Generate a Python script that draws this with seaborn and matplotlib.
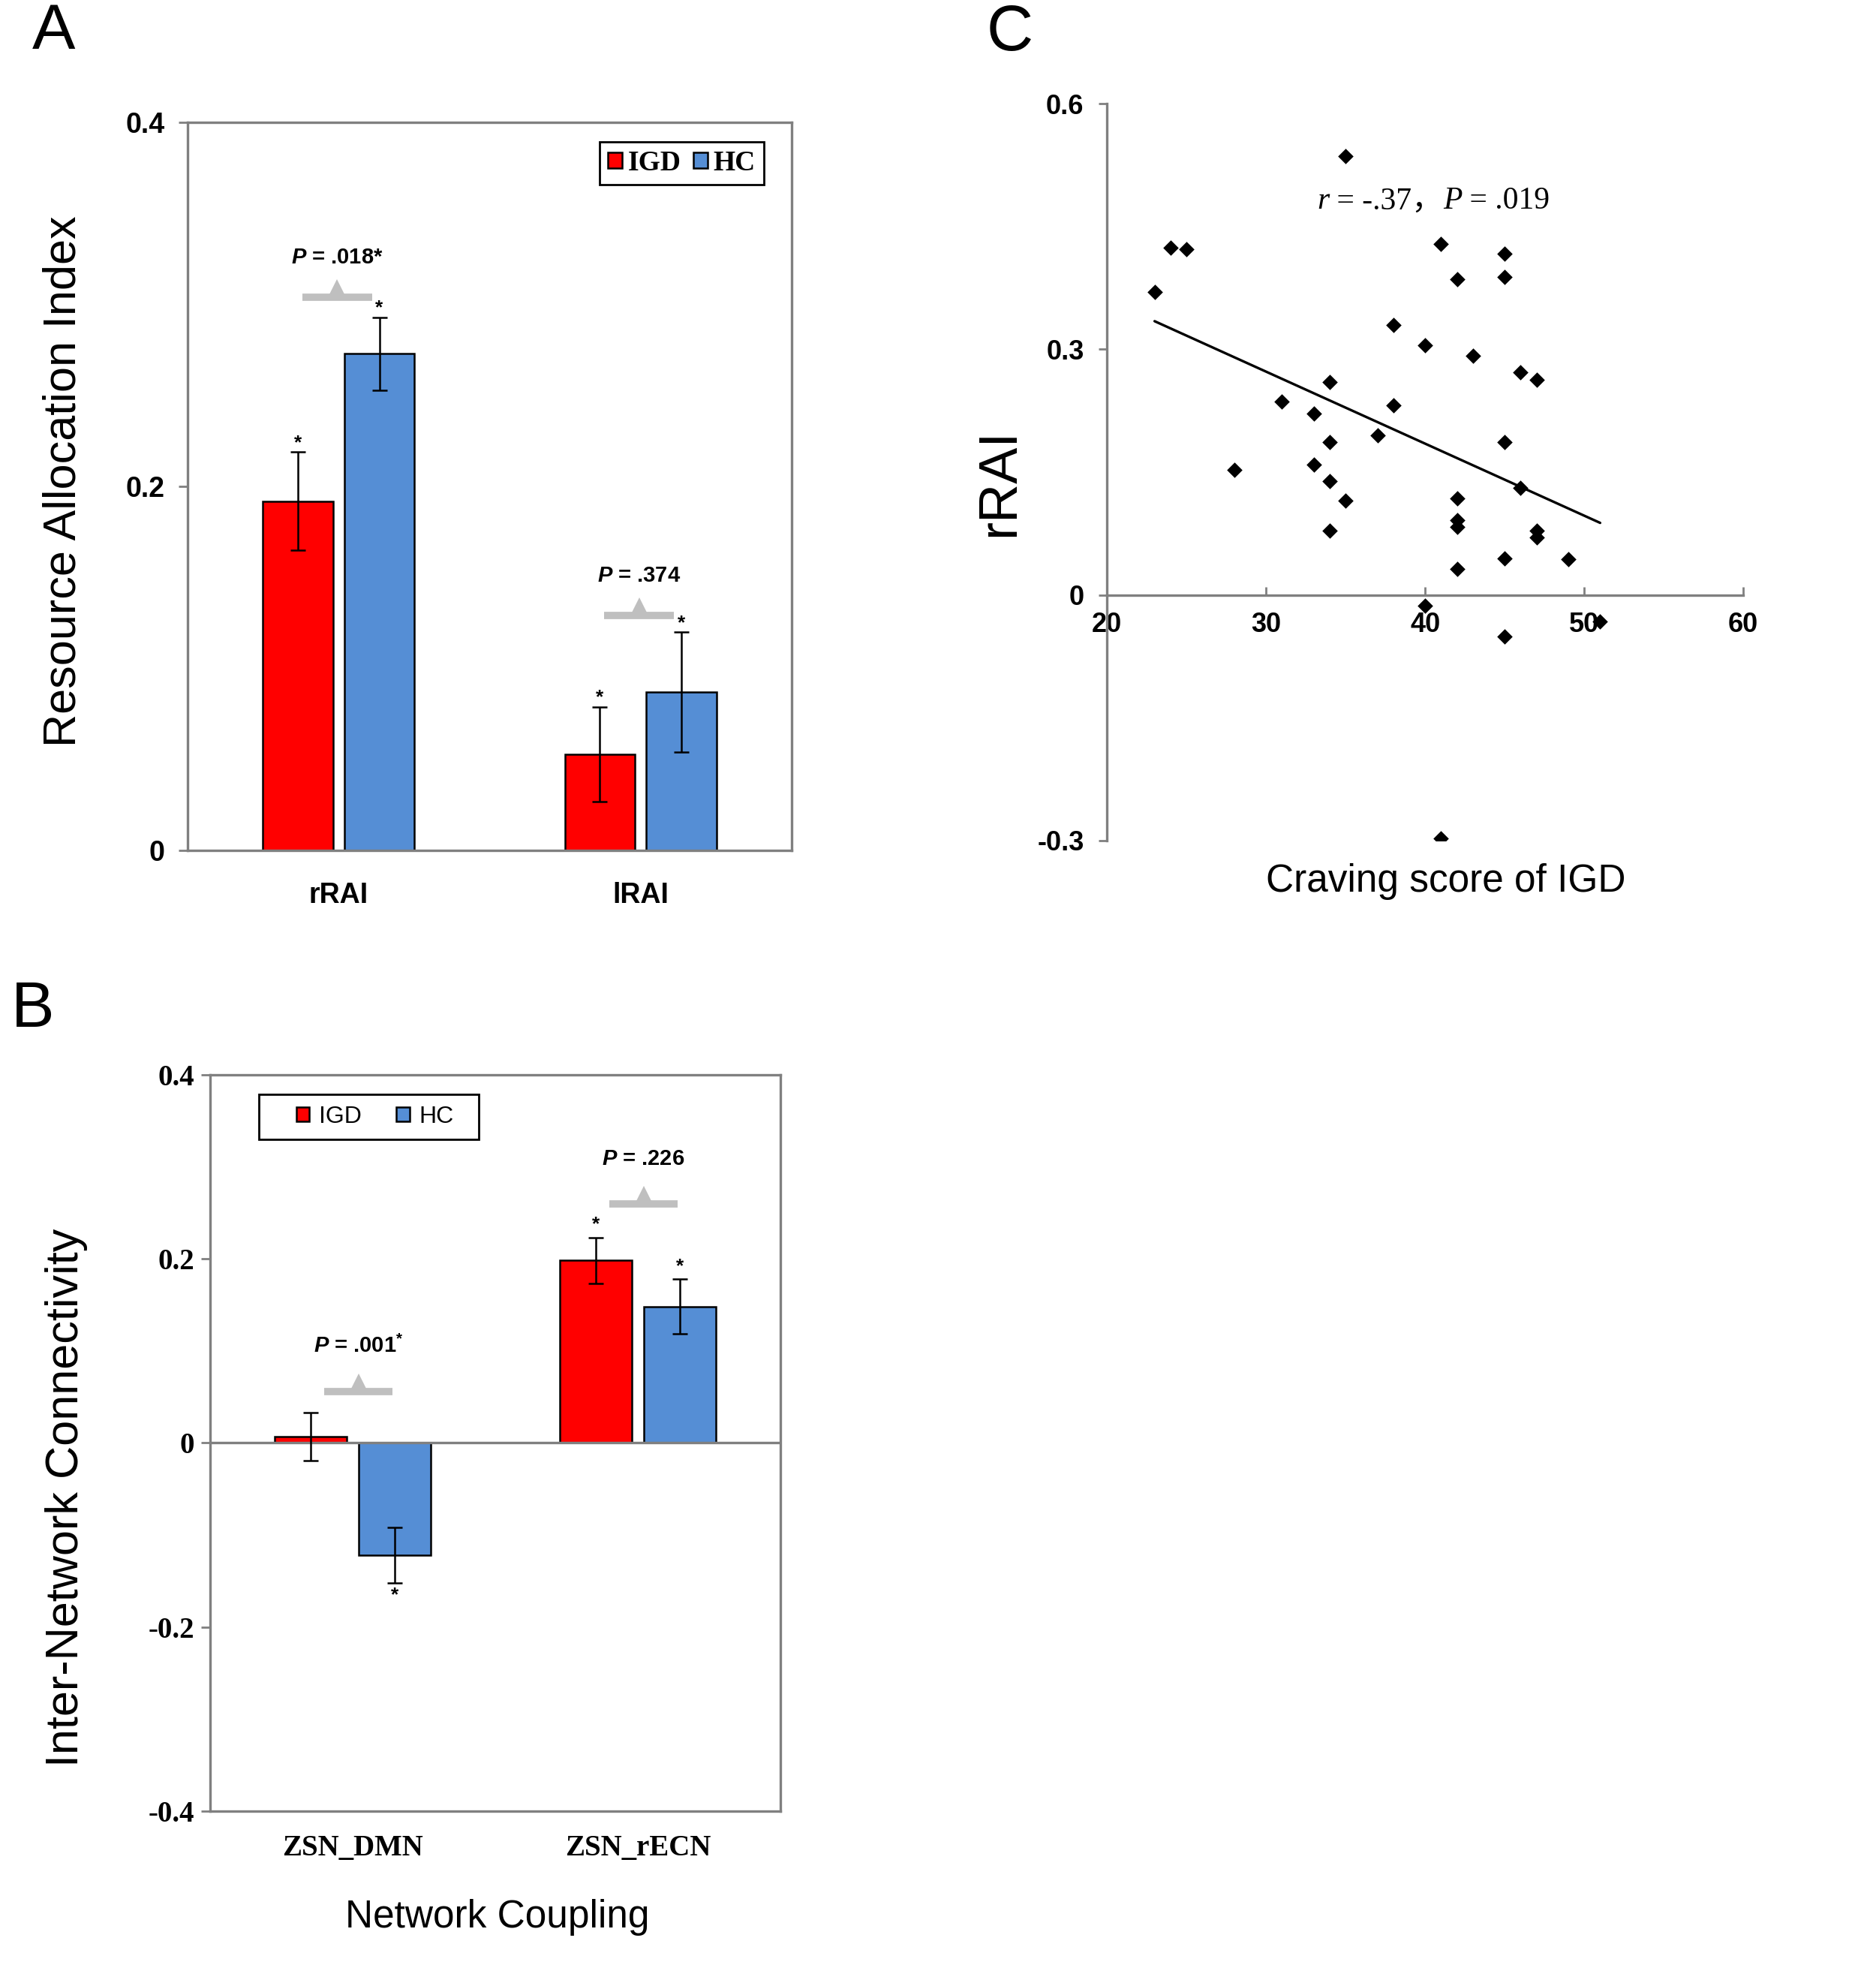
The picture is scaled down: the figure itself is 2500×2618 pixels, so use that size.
import numpy as np
import pandas as pd
import matplotlib
matplotlib.use('Agg')
import matplotlib.pyplot as plt
import matplotlib.transforms as mtransforms
from matplotlib.patches import Rectangle
import seaborn as sns

# ---- Panel A: resource allocation index ----
rai_cats = ['rRAI', 'lRAI']
rai_igd_mean = [0.192, 0.053]
rai_igd_se = [0.027, 0.026]
rai_hc_mean = [0.273, 0.087]
rai_hc_se = [0.020, 0.033]
rai_p_text = [r'$P$ = .018*', r'$P$ = .374']
rai_igd_star = [1, 1]
rai_hc_star = [1, 1]

# ---- Panel B: inter-network connectivity ----
inc_cats = ['ZSN_DMN', 'ZSN_rECN']
inc_igd_mean = [0.007, 0.198]
inc_igd_se = [0.026, 0.025]
inc_hc_mean = [-0.122, 0.148]
inc_hc_se = [0.030, 0.030]
inc_p_text = [r'$P$ = .001$^{*}$', r'$P$ = .226']
inc_igd_star = [0, 1]
inc_hc_star = [-1, 1]   # -1 = star below the bar

# ---- Panel C: craving vs rRAI ----
craving = [35, 24, 25, 23, 41, 45, 42, 45, 38, 40, 43, 46, 47, 34, 31, 33, 38, 37, 34,
           45, 28, 33, 34, 35, 46, 42, 42, 42, 34, 47, 47, 45, 49, 42, 40, 51, 45, 41]
rrai = [0.536, 0.424, 0.422, 0.370, 0.429, 0.417, 0.386, 0.388, 0.330, 0.305, 0.292,
        0.272, 0.263, 0.260, 0.236, 0.222, 0.232, 0.195, 0.187, 0.187, 0.153, 0.159,
        0.139, 0.115, 0.131, 0.118, 0.091, 0.083, 0.079, 0.079, 0.070, 0.045, 0.044,
        0.032, -0.013, -0.032, -0.051, -0.297]

RED = '#FF0000'
BLUE = '#558ED5'
SPINE = '#808080'
SIG = '#BFBFBF'

sns.set_theme(style='white')
plt.rcParams['font.family'] = ['Liberation Sans', 'Noto Sans CJK SC']
plt.rcParams['text.color'] = 'black'
plt.rcParams['axes.labelcolor'] = 'black'
plt.rcParams['xtick.color'] = 'black'
plt.rcParams['ytick.color'] = 'black'
plt.rcParams['mathtext.fontset'] = 'custom'
plt.rcParams['mathtext.it'] = 'Liberation Sans:italic:bold'
plt.rcParams['mathtext.rm'] = 'Liberation Sans:bold'
plt.rcParams['mathtext.bf'] = 'Liberation Sans:bold'

fig = plt.figure(figsize=(25, 26.18), dpi=100)
ax_a = fig.add_axes([0.100, 0.5672, 0.322, 0.3704])
ax_b = fig.add_axes([0.112, 0.0783, 0.304, 0.3749])
ax_c = fig.add_axes([0.590, 0.5722, 0.3393, 0.3750])


def bar_panel(ax, cats, igd_m, igd_se, hc_m, hc_se, igd_star, hc_star,
              width, gap, star_off):
    df = pd.DataFrame({
        'cat': cats + cats,
        'group': ['IGD'] * len(cats) + ['HC'] * len(cats),
        'value': igd_m + hc_m,
    })
    sns.barplot(data=df, x='cat', y='value', hue='group',
                palette={'IGD': RED, 'HC': BLUE}, saturation=1,
                width=width, gap=gap, errorbar=None, edgecolor='black',
                linewidth=1.8, ax=ax)
    for cont, means, ses, stars in zip(ax.containers, [igd_m, hc_m],
                                       [igd_se, hc_se], [igd_star, hc_star]):
        xs = [b.get_x() + b.get_width() / 2 for b in cont]
        ax.errorbar(xs, means, yerr=ses, fmt='none', ecolor='black',
                    elinewidth=1.8, capsize=7, capthick=1.8, zorder=5)
        for x, m, s, st in zip(xs, means, ses, stars):
            if st > 0:
                ax.text(x, m + s + star_off, '*', ha='center', va='bottom',
                        fontsize=19, fontweight='bold')
            elif st < 0:
                ax.text(x, m - s - star_off, '*', ha='center', va='top',
                        fontsize=19, fontweight='bold')
    ax.set_xlim(-0.5, 1.5)
    for side in ['left', 'right', 'top', 'bottom']:
        ax.spines[side].set_visible(True)
        ax.spines[side].set_color(SPINE)
        ax.spines[side].set_linewidth(2.4)
    ax.set_xlabel('')
    ax.tick_params(axis='x', length=0)
    ax.tick_params(axis='y', direction='out', length=9, width=2, color=SPINE,
                   left=True)


def sig_marker(ax, x, y_line, y_text, label, half=0.115):
    ax.plot([x - half, x + half], [y_line, y_line], color=SIG, lw=7,
            solid_capstyle='butt', zorder=3)
    tr = mtransforms.offset_copy(ax.transData, fig=fig, y=8, units='points')
    ax.plot([x], [y_line], marker='^', ms=19, color=SIG, mew=0,
            transform=tr, zorder=3)
    ax.text(x, y_text, label, ha='center', va='center', fontsize=21,
            fontweight='bold')


# ---------------- Panel A ----------------
bar_panel(ax_a, rai_cats, rai_igd_mean, rai_igd_se, rai_hc_mean, rai_hc_se,
          rai_igd_star, rai_hc_star, width=0.54, gap=0.14, star_off=0.0)
ax_a.set_ylim(0, 0.4)
ax_a.set_yticks([0, 0.2, 0.4], labels=['0', '0.2', '0.4'])
ax_a.tick_params(axis='y', labelsize=27, pad=13)
ax_a.tick_params(axis='x', labelsize=27, pad=30)
for lab in ax_a.get_yticklabels() + ax_a.get_xticklabels():
    lab.set_fontweight('bold')
ax_a.set_ylabel('Resource Allocation Index', fontsize=44)
ax_a.yaxis.set_label_coords(-0.170, 0.507)
for i, (lev, txt) in enumerate(zip([0.304, 0.129], rai_p_text)):
    sig_marker(ax_a, i - 0.005, lev, lev + 0.022, txt)
h, l = ax_a.get_legend_handles_labels()
ax_a.legend(h, l, ncol=2, loc='upper right', bbox_to_anchor=(0.954, 0.974),
            borderaxespad=0, frameon=True, fancybox=False, edgecolor='black',
            framealpha=1, handlelength=0.5, handleheight=0.5,
            handletextpad=0.2, columnspacing=0.45, borderpad=0.3,
            prop={'family': 'Liberation Serif', 'weight': 'bold', 'size': 27})
ax_a.get_legend().get_frame().set_linewidth(2)

# ---------------- Panel B ----------------
bar_panel(ax_b, inc_cats, inc_igd_mean, inc_igd_se, inc_hc_mean, inc_hc_se,
          inc_igd_star, inc_hc_star, width=0.59, gap=0.15, star_off=0.004)
ax_b.set_ylim(-0.4, 0.4)
b_ticks = [-0.4, -0.2, 0, 0.2, 0.4]
ax_b.set_yticks(b_ticks, labels=[f'{v:g}' for v in b_ticks])
ax_b.axhline(0, color=SPINE, lw=2.4, zorder=4)
ax_b.tick_params(axis='y', labelsize=28, pad=6)
ax_b.tick_params(axis='x', labelsize=28, pad=22)
for lab in ax_b.get_yticklabels() + ax_b.get_xticklabels():
    lab.set_fontweight('bold')
    lab.set_fontfamily('Liberation Serif')
ax_b.set_ylabel('Inter-Network Connectivity', fontsize=44)
ax_b.yaxis.set_label_coords(-0.215, 0.426)
ax_b.set_xlabel('Network Coupling', fontsize=37)
ax_b.xaxis.set_label_coords(0.504, -0.119)
ax_b.xaxis.label.set_va('top')
for i, (lev, txt) in enumerate(zip([0.0557, 0.2595], inc_p_text)):
    sig_marker(ax_b, i + 0.02, lev, lev + 0.049, txt, half=0.12)
# legend box drawn separately, entries centred inside it
ax_b.add_patch(Rectangle((0.0855, 0.912), 0.3855, 0.061,
                         transform=ax_b.transAxes, fill=True, fc='white',
                         ec='black', lw=2, zorder=6))
h, l = ax_b.get_legend_handles_labels()
leg = ax_b.legend(h, l, ncol=2, loc='center', bbox_to_anchor=(0.289, 0.9425),
                  frameon=False, handlelength=0.55, handleheight=0.55,
                  handletextpad=0.4, columnspacing=1.45, borderpad=0,
                  prop={'size': 23})
leg.set_zorder(7)

# ---------------- Panel C ----------------
sns.regplot(x=craving, y=rrai, ci=None, ax=ax_c, marker='D',
            scatter_kws={'color': 'black', 's': 110, 'linewidths': 0,
                         'alpha': 1, 'zorder': 4},
            line_kws={'color': 'black', 'lw': 2.4})
ax_c.set_xlim(20, 60)
ax_c.set_ylim(-0.3, 0.6)
ax_c.spines['top'].set_visible(False)
ax_c.spines['right'].set_visible(False)
ax_c.spines['bottom'].set_position(('data', 0))
for side in ['left', 'bottom']:
    ax_c.spines[side].set_color(SPINE)
    ax_c.spines[side].set_linewidth(2.4)
c_y = [-0.3, 0, 0.3, 0.6]
ax_c.set_yticks(c_y, labels=[f'{v:g}' for v in c_y])
ax_c.set_xticks([20, 30, 40, 50, 60])
ax_c.tick_params(axis='y', direction='out', length=8, width=2, color=SPINE,
                 left=True, labelsize=26, pad=14)
ax_c.tick_params(axis='x', direction='in', length=8, width=2, color=SPINE,
                 bottom=True, labelsize=26, pad=16)
for lab in ax_c.get_yticklabels() + ax_c.get_xticklabels():
    lab.set_fontweight('bold')
ax_c.set_ylabel('rRAI', fontsize=52)
ax_c.yaxis.set_label_coords(-0.128, 0.486)
ax_c.set_xlabel('Craving score of IGD', fontsize=37)
ax_c.xaxis.set_label_coords(0.532, -0.031)
ax_c.xaxis.label.set_va('top')

# correlation text, built from pieces so r and P are italic
serif = ['Liberation Serif', 'Noto Sans CJK SC']
t1 = ax_c.text(33.2, 0.481, 'r', fontsize=30, style='italic', family=serif,
               ha='left', va='center')
t2 = ax_c.annotate(' = -.37\uff0c', xy=(1, 0), xycoords=t1, ha='left',
                   va='bottom', fontsize=30, family=serif)
t3 = ax_c.annotate('P', xy=(1, 0), xycoords=t2, ha='left', va='bottom',
                   fontsize=30, style='italic', family=serif)
ax_c.annotate(' = .019', xy=(1, 0), xycoords=t3, ha='left', va='bottom',
              fontsize=30, family=serif)

# panel letters
fig.text(0.017, 0.999, 'A', fontsize=62, ha='left', va='top')
fig.text(0.006, 0.501, 'B', fontsize=62, ha='left', va='top')
fig.text(0.526, 0.998, 'C', fontsize=62, ha='left', va='top')

fig.savefig('out.png', dpi=100, facecolor='white')
